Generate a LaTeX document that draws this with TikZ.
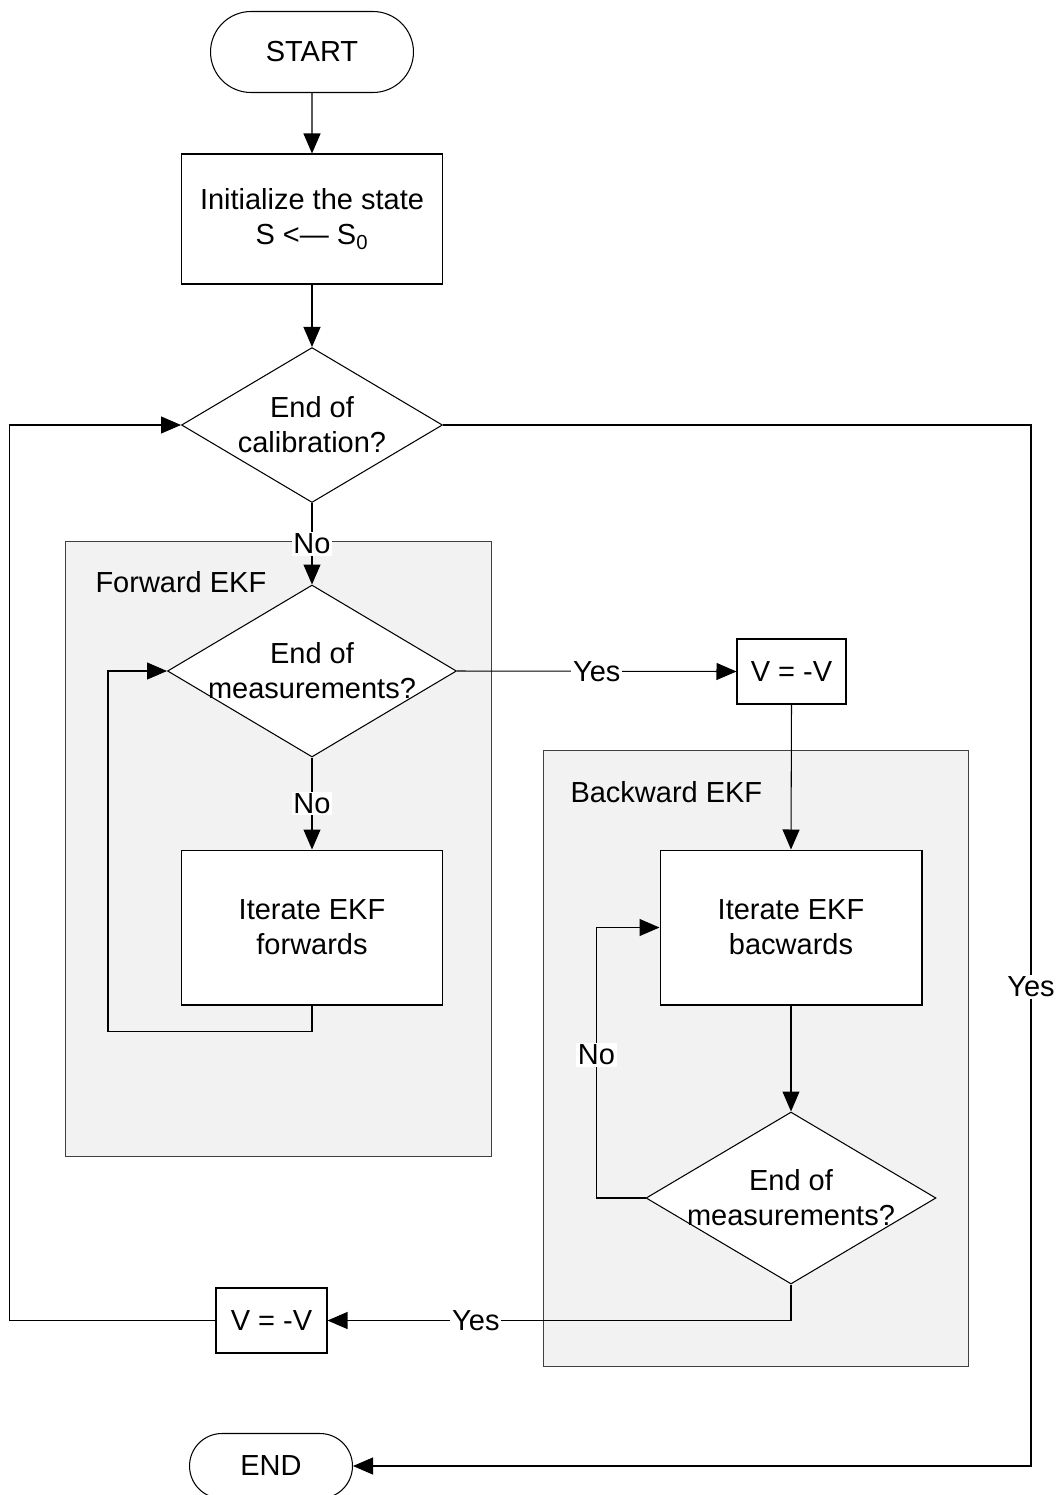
\documentclass[tikz,border=0pt]{standalone}
\usepackage{fontspec}
\setmainfont{Liberation Sans}
\usetikzlibrary{shapes.geometric,shapes.misc,arrows.meta}
\begin{document}
\begin{tikzpicture}[x=0.02cm,y=-0.02cm,
        font=\fontsize{16.5}{19.9}\selectfont,
        every path/.style={line width=0.6pt},
        terminal/.style={rounded rectangle, draw, fill=white, inner sep=0pt},
        process/.style={rectangle, draw, fill=white, align=center, inner sep=0pt},
        decision/.style={diamond, draw, fill=white, inner sep=0pt, minimum width=5.22cm, minimum height=3.1cm},
        group/.style={rectangle, draw=black!75, fill=black!5, inner sep=0pt},
        flow/.style={-{Triangle[length=0.4cm,width=0.34cm]}},
        lbl/.style={fill=white, inner sep=1pt}]
        \useasboundingbox (0,0) rectangle (1064,1495);

        % groups behind
        \node [group, minimum width=8.54cm, minimum height=12.32cm] (fwdgroup) at (278.5,849) {};
        \node [group, minimum width=8.52cm, minimum height=12.34cm] (bwdgroup) at (756,1058.5) {};
        \node [anchor=west, inner sep=0pt] (fwdtitle) at (95,582) {Forward EKF};
        \node [anchor=west, inner sep=0pt] (bwdtitle) at (570,792) {Backward EKF};

        \node [terminal, minimum width=4.06cm, minimum height=1.62cm] (start) at (312,52) {START};
        \node [process, minimum width=5.22cm, minimum height=2.6cm] (init) at (312,219) {Initialize the state\\S <— S\textsubscript{0}};
        \node [decision, label={[align=center]center:{End of\\calibration?}}] (calib) at (312,425) {};

        % forward
        \node [decision, minimum width=5.78cm, minimum height=3.44cm, label={[align=center]center:{End of\\measurements?}}] (fwdcheck) at (312,671) {};
        \node [process, minimum width=5.22cm, minimum height=3.1cm] (fwdstep) at (312,927.5) {Iterate EKF\\forwards};

        % backward
        \node [process, minimum width=2.18cm, minimum height=1.3cm] (flipa) at (791.5,671.5) {V = -V};
        \node [process, minimum width=5.24cm, minimum height=3.1cm] (bwdstep) at (791,927.5) {Iterate EKF\\bacwards};
        \node [decision, minimum width=5.8cm, minimum height=3.44cm, label={[align=center]center:{End of\\measurements?}}] (bwdcheck) at (791,1198) {};
        \node [process, minimum width=2.22cm, minimum height=1.3cm] (flipb) at (271.5,1320.5) {V = -V};

        \node [terminal, minimum width=3.26cm, minimum height=1.3cm] (finish) at (271,1466) {END};

        % connectors
        \draw [flow] (start) -- (init);
        \draw [flow] (init) -- (calib);
        \draw [flow] (calib.south) -- node[lbl] {No} (fwdcheck.north);
        \draw [flow] (fwdcheck.south) -- node[lbl] {No} (fwdstep.north);
        \draw [flow] (fwdstep.south) -- ++(0,26) -- ++(-204,0) |- (fwdcheck.west);
        \draw [flow] (fwdcheck.east) -- node[lbl] {Yes} (flipa.west);
        \draw [flow] (flipa.south) -- (bwdstep.north);
        \draw [flow] (bwdstep.south) -- (bwdcheck.north);
        \draw [flow] (bwdcheck.west) -- ++(-49,0) |- node[lbl, pos=0.265] {No} (bwdstep.west);
        \draw [flow] (bwdcheck.south) |- node[lbl, pos=0.84] {Yes} (flipb.east);
        \draw [flow] (flipb.west) -- ++(-206,0) |- (calib.west);
        \draw [flow] (calib.east) -- ++(588,0) |- node[lbl, pos=0.27] {Yes} (finish.east);

\end{tikzpicture}
\end{document}
